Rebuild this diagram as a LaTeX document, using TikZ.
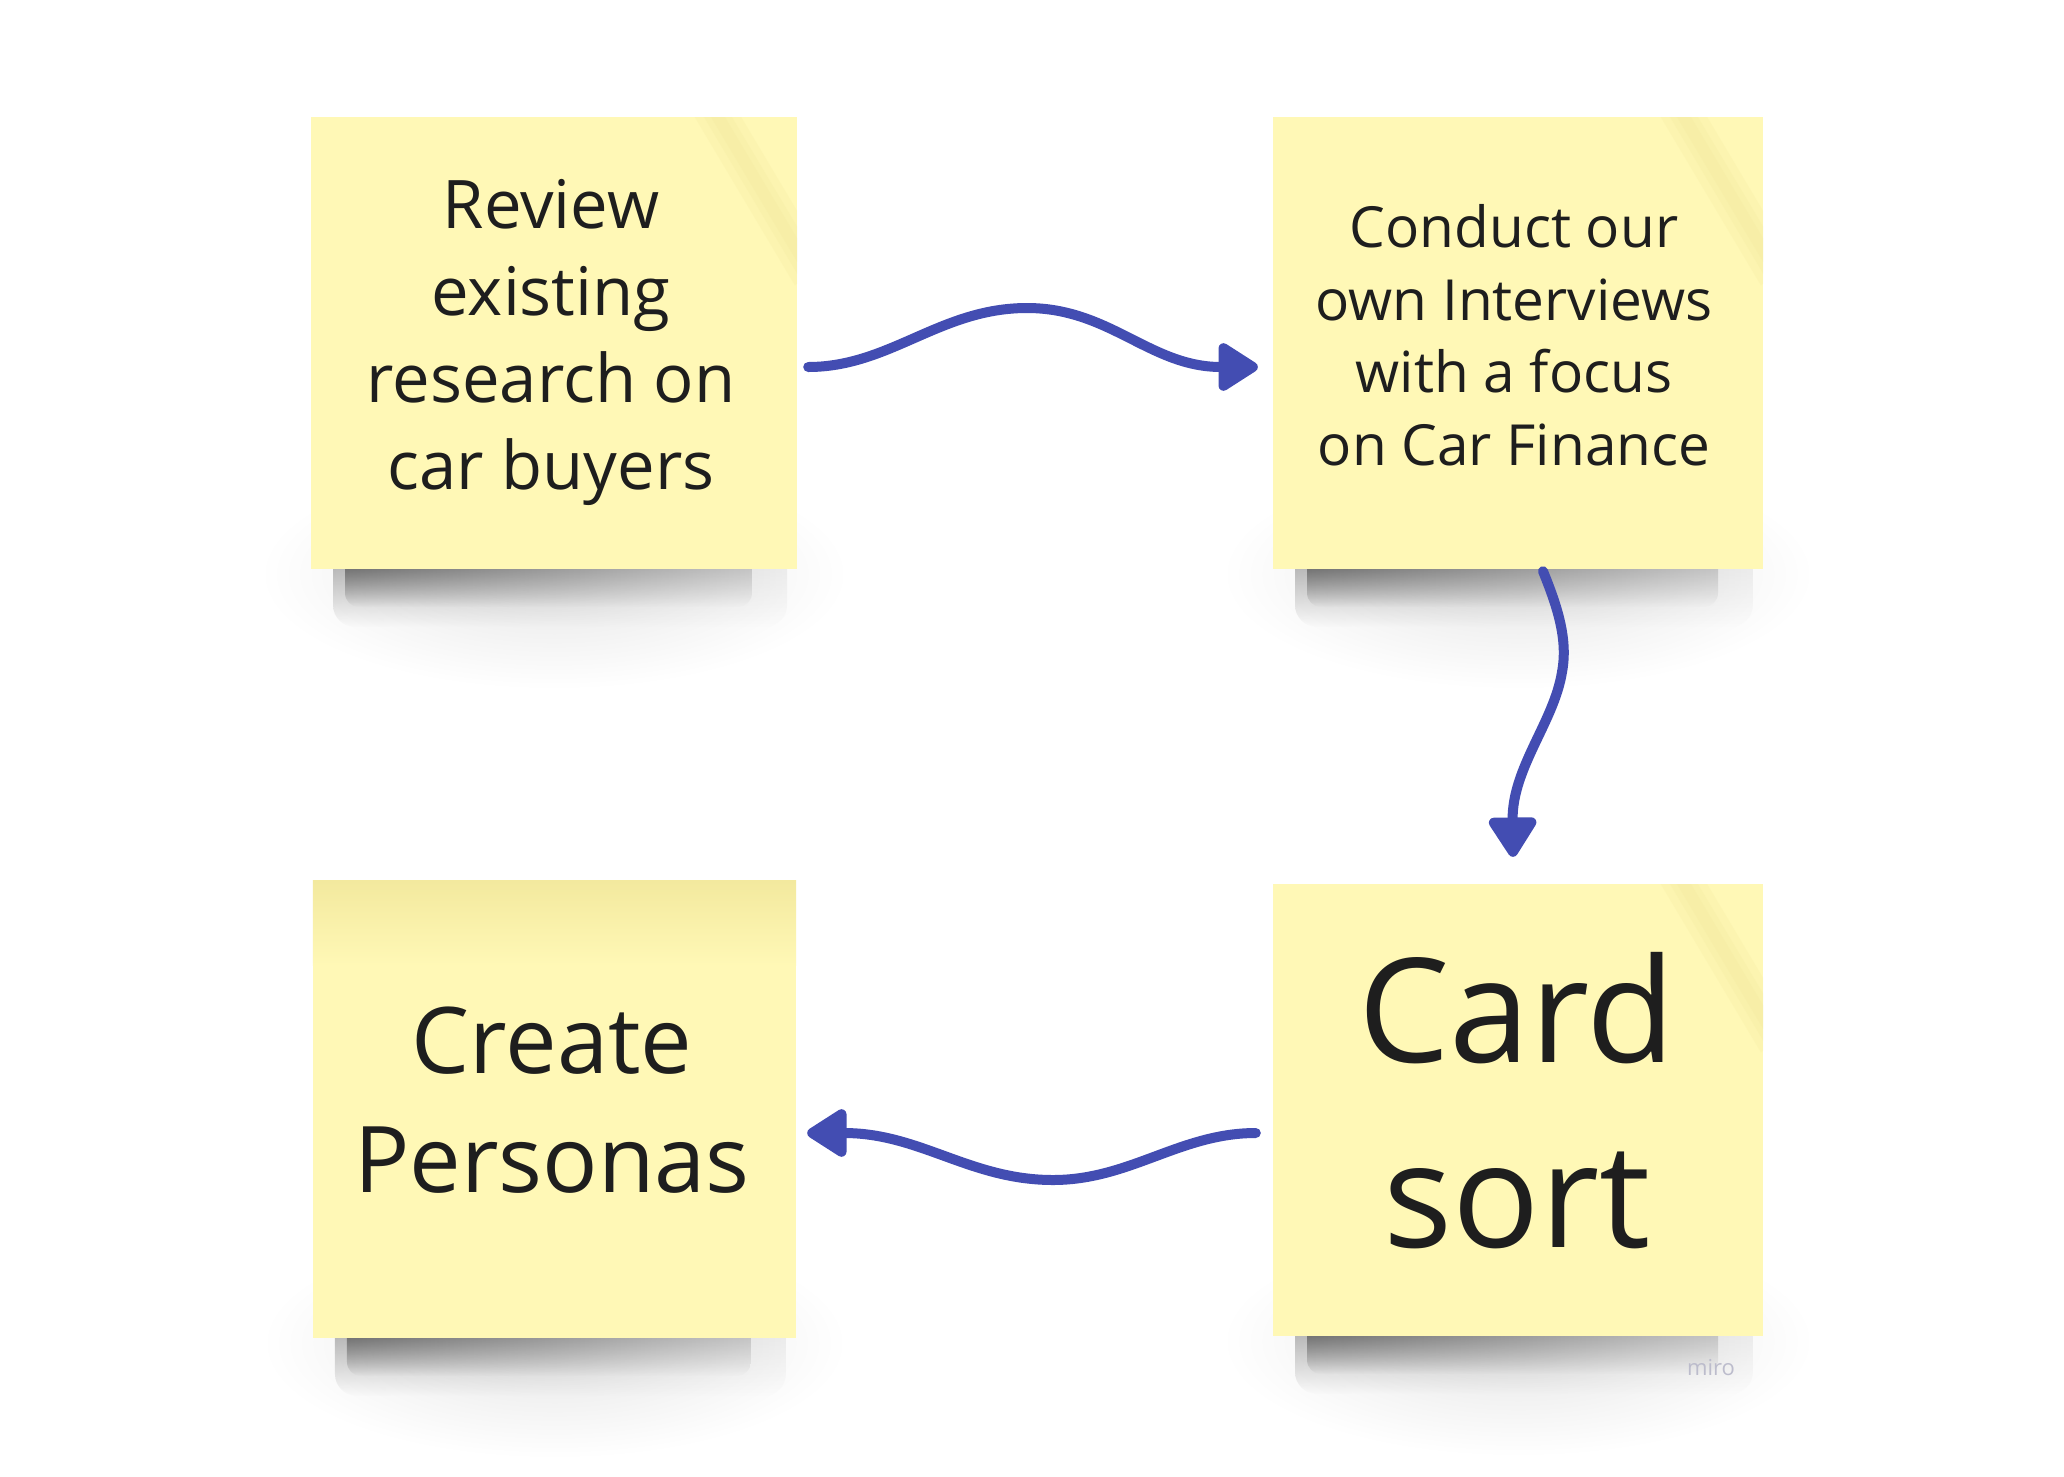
\documentclass[tikz,border=0pt]{standalone}
\usepackage{fontspec}
\setmainfont{Open Sans}
\usetikzlibrary{arrows.meta,calc,fadings}
\definecolor{sticky}{RGB}{255,248,182}
\definecolor{stickydark}{RGB}{243,233,158}
\definecolor{arrowblue}{RGB}{67,77,178}
\definecolor{ink}{RGB}{30,30,30}
\definecolor{mirogray}{RGB}{188,188,204}
\tikzfading[name=fadedown, top color=transparent!0, bottom color=transparent!100]
\tikzfading[name=fadeout, inner color=transparent!0, outer color=transparent!100]
\newcommand\noteshadow[3]{%
  \fill[black, opacity=0.10, path fading=fadeout] ({#1-50},{#3-110}) rectangle ({#2+50},{#3+120});
  \shade[left color=black!40, right color=black!10, path fading=fadedown, rounded corners=22pt]
    ({#1+22},{#3-30}) rectangle ({#2-10},{#3+58});
  \shade[left color=black!70, right color=black!30, path fading=fadedown, rounded corners=14pt]
    ({#1+34},{#3-22}) rectangle ({#2-45},{#3+38});
}
\newcommand\notefold[2]{%
  \begin{scope}
    \clip ({#1-150},{#2}) rectangle ({#1},{#2+260});
    \foreach \w/\o in {40/0.22,24/0.25,12/0.28}{%
      \draw[stickydark, line width=\w pt, opacity=\o] ({#1-88},{#2-15}) -- ({#1+15},{#2+158});
    }
  \end{scope}
}
\tikzset{
  stickynote/.style={fill=sticky, inner sep=0pt},
  notetext/.style={align=center, text=ink, inner sep=0pt},
  flow/.style={draw=arrowblue, line width=10pt, line cap=round,
    -{Triangle[length=44pt,width=53pt,round]}}
}
\begin{document}
\begin{tikzpicture}[x=1pt,y=-1pt]
\useasboundingbox (0,0) rectangle (2064,1476);
\fill[white] (0,0) rectangle (2064,1476);
% shadows
\noteshadow{311}{797}{569}
\noteshadow{1273}{1763}{569}
\noteshadow{313}{796}{1338}
\noteshadow{1273}{1763}{1336}
% sticky notes
\node[stickynote, minimum width=486pt, minimum height=452pt] (s1) at (554,343) {};
\node[stickynote, minimum width=490pt, minimum height=452pt] (s2) at (1518,343) {};
\node[stickynote, minimum width=483pt, minimum height=457pt] (s3) at (554.5,1109.5) {};
\node[stickynote, minimum width=490pt, minimum height=452pt] (s4) at (1518,1110) {};
% subtle paper shading
\notefold{797}{117}
\notefold{1763}{117}
\notefold{1763}{884}
\shade[top color=stickydark, bottom color=sticky] (s3.north west) rectangle ($(s3.north east)+(0,85)$);
% texts
\node[notetext, font=\fontsize{67}{87}\selectfont] (t1) at (551,342) {Review\\existing\\research on\\car buyers};
\node[notetext, font=\fontsize{56.7}{72.5}\selectfont] (t2) at (1514,335) {Conduct our\\own Interviews\\with a focus\\on Car Finance};
\node[notetext, font=\fontsize{92}{119}\selectfont] (t3) at (552,1100) {Create\\Personas};
\node[notetext, font=\fontsize{145}{185}\selectfont] (t4) at (1517,1101) {Card\\sort};
\node[text=mirogray, font=\fontsize{22}{26}\selectfont, anchor=base, inner sep=0pt] (wm) at (1711,1375) {miro};
% connectors
\draw[flow] ([xshift=11pt,yshift=-24pt]s1.east)
  .. controls (890,367) and (940,308) .. (1027,308)
  .. controls (1110,308) and (1150,367) .. ([xshift=-15pt,yshift=-24pt]s2.west);
\draw[flow] ([xshift=25pt,yshift=-2pt]s2.south)
  .. controls (1558,608) and (1568,640) .. (1562,672)
  .. controls (1554,722) and (1512,768) .. ([xshift=-5pt,yshift=27pt]s4.north);
\draw[flow] ([xshift=-17pt,yshift=-23pt]s4.west)
  .. controls (1180,1133) and (1130,1180) .. (1053,1180)
  .. controls (970,1180) and (920,1133) .. ([xshift=11pt,yshift=-23.5pt]s3.east);
\end{tikzpicture}
\end{document}
